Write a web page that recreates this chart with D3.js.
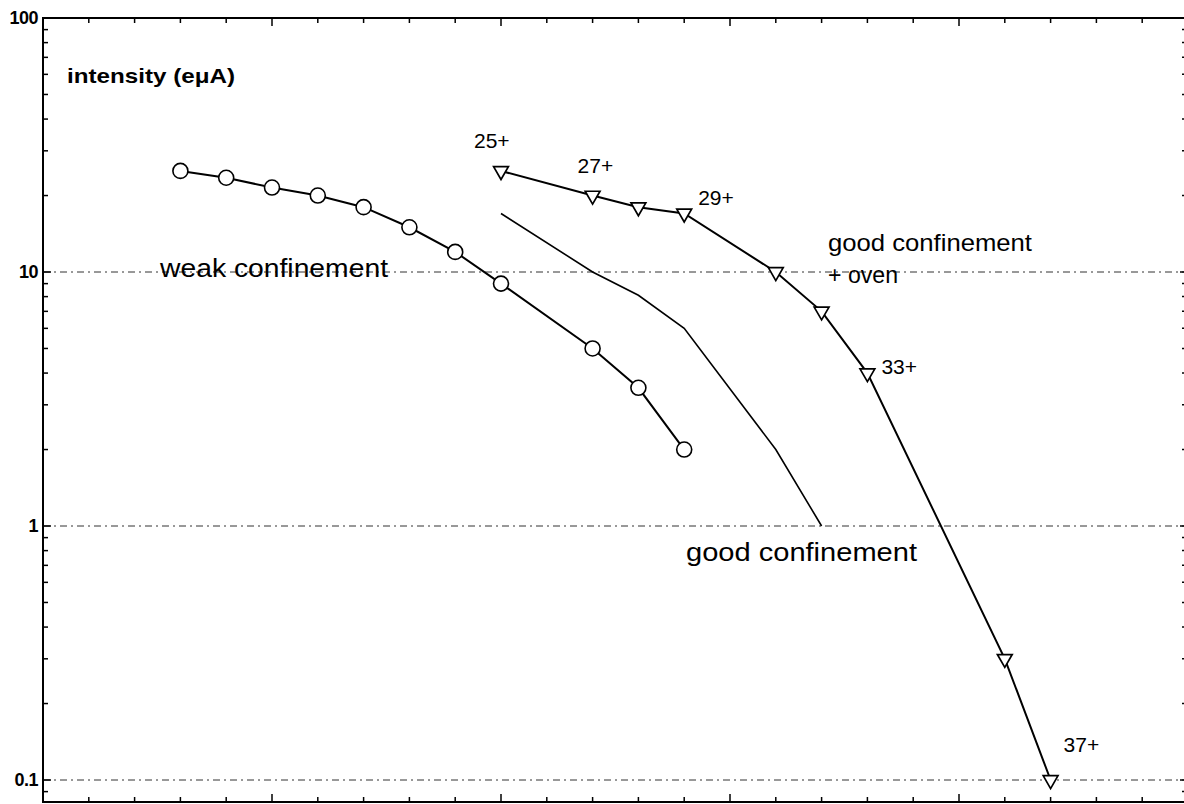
<!DOCTYPE html>
<html>
<head>
<meta charset="utf-8">
<script src="https://cdn.jsdelivr.net/npm/d3@7"></script>
<style>
  html, body { margin: 0; padding: 0; background: #fff; }
  svg { display: block; }
  text { font-family: "Liberation Sans", Arial, Helvetica, sans-serif; fill: #000; }
</style>
</head>
<body>
<svg id="chart" width="1184" height="804"></svg>
<script>
// ---- data ----
const weakCharge    = [18, 19, 20, 21, 22, 23, 24, 25, 27, 28, 29];
const weakIntensity = [25, 23.5, 21.5, 20, 18, 15, 12, 9, 5, 3.5, 2];

const goodCharge    = [25, 27, 28, 29, 31, 32];
const goodIntensity = [17, 10, 8.1, 6, 2, 1];

const ovenCharge    = [25, 27, 28, 29, 31, 32, 33, 36, 37];
const ovenIntensity = [25, 20, 18, 17, 10, 7, 4, 0.3, 0.1];

const chargeLabels  = ["25+", "27+", "29+", "33+", "37+"];
const chargeLabelAt = [25, 27, 29, 33, 37];

const yTickValues = [0.1, 1, 10, 100];
const yTickLabels = ["0.1", "1", "10", "100"];
const gridValues  = [0.1, 1, 10];

// ---- layout ----
const svg = d3.select("#chart");
const mLeft = 43, mRight = 1188, mTop = 18, mBottom = 802;

const x = d3.scaleLinear().domain([15, 40]).range([mLeft, mRight]);
const y = d3.scaleLog().domain([0.1, 100]).range([780, 18]);

// minor tick values for log axis
const minorY = [];
[0.01, 0.1, 1, 10].forEach(d => { for (let k = 1; k <= 9; k++) minorY.push(+(d * k).toPrecision(3)); });
minorY.push(100);
const yMinVisible = y.invert(mBottom);
const minorYVis = minorY.filter(v => v >= yMinVisible && v <= 100);
const xTicks = d3.range(15, 41);

// gridlines
svg.append("g").selectAll("line").data(gridValues).join("line")
  .attr("x1", mLeft).attr("x2", mRight)
  .attr("y1", d => y(d)).attr("y2", d => y(d))
  .attr("stroke", "#333").attr("stroke-width", 1)
  .attr("stroke-dasharray", "7,4,2,4");

// frame
svg.append("rect").attr("x", mLeft).attr("y", mTop)
  .attr("width", mRight - mLeft).attr("height", mBottom - mTop)
  .attr("fill", "none").attr("stroke", "#000").attr("stroke-width", 2);

// x ticks (bottom & top, inward)
const isMajorX = d => d % 5 === 0;
svg.append("g").selectAll("line").data(xTicks).join("line")
  .attr("x1", d => x(d)).attr("x2", d => x(d))
  .attr("y1", mBottom).attr("y2", d => mBottom - (isMajorX(d) ? 8 : 5))
  .attr("stroke", "#000").attr("stroke-width", 1.5);
svg.append("g").selectAll("line").data(xTicks).join("line")
  .attr("x1", d => x(d)).attr("x2", d => x(d))
  .attr("y1", mTop).attr("y2", d => mTop + (isMajorX(d) ? 8 : 5))
  .attr("stroke", "#000").attr("stroke-width", 1.5);

// y ticks (left & right, inward)
const isMajorY = d => yTickValues.some(v => Math.abs(v - d) < 1e-9);
svg.append("g").selectAll("line").data(minorYVis).join("line")
  .attr("x1", mLeft).attr("x2", d => mLeft + (isMajorY(d) ? 8 : 5))
  .attr("y1", d => y(d)).attr("y2", d => y(d))
  .attr("stroke", "#000").attr("stroke-width", 1.5);
svg.append("g").selectAll("line").data(minorYVis).join("line")
  .attr("x1", mRight).attr("x2", d => mRight - (isMajorY(d) ? 8 : 6))
  .attr("y1", d => y(d)).attr("y2", d => y(d))
  .attr("stroke", "#000").attr("stroke-width", 1.5);

// y tick labels
svg.append("g").selectAll("text").data(yTickValues).join("text")
  .attr("x", mLeft - 5).attr("y", d => y(d) + 6)
  .attr("text-anchor", "end")
  .attr("font-size", 18).attr("font-weight", "bold")
  .attr("letter-spacing", -0.5)
  .text((d, i) => yTickLabels[i]);

// lines
const line = d3.line().x(d => x(d[0])).y(d => y(d[1]));
const weak = weakCharge.map((c, i) => [c, weakIntensity[i]]);
const good = goodCharge.map((c, i) => [c, goodIntensity[i]]);
const oven = ovenCharge.map((c, i) => [c, ovenIntensity[i]]);

svg.append("path").datum(good).attr("d", line)
  .attr("fill", "none").attr("stroke", "#000").attr("stroke-width", 1.6);
svg.append("path").datum(weak).attr("d", line)
  .attr("fill", "none").attr("stroke", "#000").attr("stroke-width", 2);
svg.append("path").datum(oven).attr("d", line)
  .attr("fill", "none").attr("stroke", "#000").attr("stroke-width", 2);

// circle markers
svg.append("g").selectAll("circle").data(weak).join("circle")
  .attr("cx", d => x(d[0])).attr("cy", d => y(d[1])).attr("r", 7.5)
  .attr("fill", "#fff").attr("stroke", "#000").attr("stroke-width", 1.6);

// down-triangle markers
const tri = d3.symbol().type(d3.symbolTriangle).size(95);
svg.append("g").selectAll("path").data(oven).join("path")
  .attr("d", tri)
  .attr("transform", d => `translate(${x(d[0])},${y(d[1])}) rotate(180)`)
  .attr("fill", "#fff").attr("stroke", "#000").attr("stroke-width", 1.7);

// charge-state labels (offsets relative to their data point)
const labelOffsets = [[-27, -23], [-15, -23], [14, -8], [14, 1], [13, -28]];
svg.append("g").selectAll("text").data(chargeLabelAt).join("text")
  .attr("x", (d, i) => x(d) + labelOffsets[i][0])
  .attr("y", (d, i) => y(ovenIntensity[ovenCharge.indexOf(d)]) + labelOffsets[i][1])
  .attr("font-size", 21)
  .text((d, i) => chargeLabels[i]);

// annotations
svg.append("text").attr("x", 67).attr("y", 83)
  .attr("font-size", 21).attr("font-weight", "bold")
  .attr("textLength", 168).attr("lengthAdjust", "spacingAndGlyphs")
  .text("intensity (eμA)");

svg.append("text").attr("x", 160).attr("y", 277)
  .attr("font-size", 25)
  .attr("textLength", 228).attr("lengthAdjust", "spacingAndGlyphs")
  .text("weak confinement");

svg.append("text").attr("x", 686).attr("y", 561)
  .attr("font-size", 25)
  .attr("textLength", 231).attr("lengthAdjust", "spacingAndGlyphs")
  .text("good confinement");

svg.append("text").attr("x", 828).attr("y", 251)
  .attr("font-size", 24)
  .attr("textLength", 204).attr("lengthAdjust", "spacingAndGlyphs")
  .text("good confinement");

svg.append("text").attr("x", 828).attr("y", 283)
  .attr("font-size", 24)
  .attr("textLength", 70).attr("lengthAdjust", "spacingAndGlyphs")
  .text("+ oven");
</script>
</body>
</html>
